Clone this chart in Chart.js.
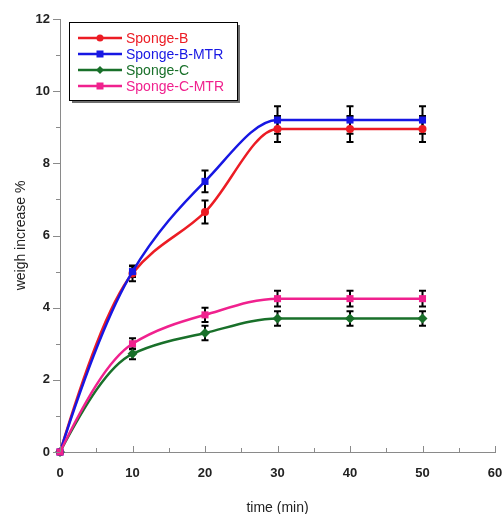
<!DOCTYPE html>
<html>
<head>
<meta charset="utf-8">
<script src="https://cdn.jsdelivr.net/npm/chart.js@4.4.1/dist/chart.umd.min.js"></script>
<style>
  html, body { margin: 0; padding: 0; background: #fff; }
  #wrap { width: 502px; height: 514px; position: relative; }
</style>
</head>
<body>
<div id="wrap"><canvas id="weightChart"></canvas></div>
<script>
// Time points (min)
const timePoints = [0, 10, 20, 30, 40, 50];

// Weight increase %
const spongeB = [0, 4.95, 6.65, 8.95, 8.95, 8.95];
const spongeBMtr = [0, 5.0, 7.5, 9.2, 9.2, 9.2];
const spongeC = [0, 2.72, 3.3, 3.7, 3.7, 3.7];
const spongeCMtr = [0, 3.0, 3.8, 4.25, 4.25, 4.25];

// Error bar half-heights
const errB = [0, 0.22, 0.32, 0.36, 0.36, 0.36];
const errBMtr = [0, 0.15, 0.3, 0.38, 0.38, 0.38];
const errC = [0, 0.15, 0.2, 0.2, 0.2, 0.2];
const errCMtr = [0, 0.15, 0.2, 0.22, 0.22, 0.22];

// Axis ticks
const xMajorTicks = [0, 10, 20, 30, 40, 50, 60];
const xMinorTicks = [5, 15, 25, 35, 45, 55];
const yMajorTicks = [0, 2, 4, 6, 8, 10, 12];
const yMinorTicks = [1, 3, 5, 7, 9, 11];

const seriesNames = ["Sponge-B", "Sponge-B-MTR", "Sponge-C", "Sponge-C-MTR"];

function toPoints(values, errs) {
  return values.map((v, i) => ({ x: timePoints[i], y: v, err: errs[i] }));
}

// PCHIP-style tangents (like Origin's spline): no wiggles, flat on plateaus
function pchipSlopes(xs, ys) {
  const n = xs.length;
  const h = [], d = [], m = new Array(n).fill(0);
  for (let k = 0; k < n - 1; k++) {
    h[k] = xs[k + 1] - xs[k];
    d[k] = (ys[k + 1] - ys[k]) / h[k];
  }
  for (let k = 1; k < n - 1; k++) {
    if (d[k - 1] * d[k] <= 0) { m[k] = 0; continue; }
    const w1 = 2 * h[k] + h[k - 1], w2 = h[k] + 2 * h[k - 1];
    m[k] = (w1 + w2) / (w1 / d[k - 1] + w2 / d[k]);
  }
  const endSlope = (h0, h1, d0, d1) => {
    let s = ((2 * h0 + h1) * d0 - h0 * d1) / (h0 + h1);
    if (Math.sign(s) !== Math.sign(d0)) s = 0;
    else if (Math.sign(d0) !== Math.sign(d1) && Math.abs(s) > Math.abs(3 * d0)) s = 3 * d0;
    return s;
  };
  m[0] = endSlope(h[0], h[1], d[0], d[1]);
  m[n - 1] = endSlope(h[n - 2], h[n - 3], d[n - 2], d[n - 3]);
  return m;
}

const pchipCurve = {
  id: "pchipCurve",
  beforeDatasetDraw(chart, args) {
    const meta = args.meta;
    const line = meta.dataset;
    if (!line || !line.updateControlPoints) return;
    line.updateControlPoints(chart.chartArea, "x");
    const pts = meta.data;
    const px = pts.map(p => p.x), py = pts.map(p => p.y);
    const m = pchipSlopes(px, py);
    for (let i = 0; i < pts.length; i++) {
      if (i > 0) {
        const hb = (px[i] - px[i - 1]) / 3;
        pts[i].cp1x = px[i] - hb;
        pts[i].cp1y = py[i] - m[i] * hb;
      }
      if (i < pts.length - 1) {
        const ha = (px[i + 1] - px[i]) / 3;
        pts[i].cp2x = px[i] + ha;
        pts[i].cp2y = py[i] + m[i] * ha;
      }
    }
  }
};

// Error bars drawn under the markers
const errorBars = {
  id: "errorBars",
  beforeDatasetsDraw(chart) {
    const ctx = chart.ctx;
    const ys = chart.scales.y;
    ctx.save();
    ctx.strokeStyle = "#000";
    ctx.lineWidth = 2;
    chart.data.datasets.forEach((ds, di) => {
      const meta = chart.getDatasetMeta(di);
      ds.data.forEach((p, i) => {
        if (!p.err) return;
        const px = meta.data[i].x;
        const top = ys.getPixelForValue(p.y + p.err);
        const bot = ys.getPixelForValue(p.y - p.err);
        ctx.beginPath();
        ctx.moveTo(px, top); ctx.lineTo(px, bot);
        ctx.moveTo(px - 3.5, top); ctx.lineTo(px + 3.5, top);
        ctx.moveTo(px - 3.5, bot); ctx.lineTo(px + 3.5, bot);
        ctx.stroke();
      });
    });
    ctx.restore();
  }
};

// Tick marks: x inward, y outward
const axisTicks = {
  id: "axisTicks",
  afterDraw(chart) {
    const ctx = chart.ctx;
    const xs = chart.scales.x, ys = chart.scales.y;
    ctx.save();
    ctx.strokeStyle = "#8a8a8a";
    ctx.lineWidth = 1;
    ctx.beginPath();
    xMajorTicks.forEach(v => {
      const px = Math.round(xs.getPixelForValue(v)) + 0.5;
      ctx.moveTo(px, ys.bottom); ctx.lineTo(px, ys.bottom - 6);
    });
    xMinorTicks.forEach(v => {
      const px = Math.round(xs.getPixelForValue(v)) + 0.5;
      ctx.moveTo(px, ys.bottom); ctx.lineTo(px, ys.bottom - 4);
    });
    yMajorTicks.forEach(v => {
      const py = Math.round(ys.getPixelForValue(v)) + 0.5;
      ctx.moveTo(xs.left, py); ctx.lineTo(xs.left - 7, py);
    });
    yMinorTicks.forEach(v => {
      const py = Math.round(ys.getPixelForValue(v)) + 0.5;
      ctx.moveTo(xs.left, py); ctx.lineTo(xs.left - 4, py);
    });
    ctx.stroke();
    ctx.restore();
  }
};

// Boxed legend inside the plot, with a drop shadow
const boxLegend = {
  id: "boxLegend",
  afterDraw(chart) {
    const ctx = chart.ctx;
    const bx = 69, by = 22, bw = 168, bh = 78;
    ctx.save();
    ctx.fillStyle = "#6e6e6e";
    ctx.fillRect(bx + 3, by + 3, bw, bh);
    ctx.fillStyle = "#fff";
    ctx.fillRect(bx, by, bw, bh);
    ctx.strokeStyle = "#000";
    ctx.lineWidth = 1;
    ctx.strokeRect(bx + 0.5, by + 0.5, bw, bh);
    ctx.font = "14px 'Liberation Sans', Arial, sans-serif";
    ctx.textBaseline = "middle";
    chart.data.datasets.forEach((ds, i) => {
      const ry = by + 16 + i * 16;
      ctx.strokeStyle = ds.borderColor;
      ctx.lineWidth = 2.5;
      ctx.beginPath();
      ctx.moveTo(78, ry); ctx.lineTo(122, ry);
      ctx.stroke();
      ctx.fillStyle = ds.borderColor;
      const s = ds.pointStyle;
      ctx.beginPath();
      if (s === "circle") {
        ctx.arc(100, ry, 3.5, 0, Math.PI * 2);
      } else if (s === "rectRot") {
        ctx.moveTo(100, ry - 4); ctx.lineTo(104, ry); ctx.lineTo(100, ry + 4); ctx.lineTo(96, ry);
        ctx.closePath();
      } else {
        ctx.rect(96.5, ry - 3.5, 7, 7);
      }
      ctx.fill();
      ctx.fillText(ds.label, 126, ry + 1);
    });
    ctx.restore();
  }
};

const tickFont = { family: "'Liberation Sans', Arial, sans-serif", size: 13, weight: "bold" };
const titleFont = { family: "'Liberation Sans', Arial, sans-serif", size: 14 };

new Chart(document.getElementById("weightChart"), {
  type: "line",
  data: {
    datasets: [
      {
        label: seriesNames[0],
        data: toPoints(spongeB, errB),
        borderColor: "#ec1c24",
        backgroundColor: "#ec1c24",
        pointStyle: "circle",
        pointRadius: 4,
        order: 3,
      },
      {
        label: seriesNames[1],
        data: toPoints(spongeBMtr, errBMtr),
        borderColor: "#1717e3",
        backgroundColor: "#1717e3",
        pointStyle: "rect",
        pointRadius: 5,
        order: 1,
      },
      {
        label: seriesNames[2],
        data: toPoints(spongeC, errC),
        borderColor: "#19702a",
        backgroundColor: "#19702a",
        pointStyle: "rectRot",
        pointRadius: 5,
        order: 2,
      },
      {
        label: seriesNames[3],
        data: toPoints(spongeCMtr, errCMtr),
        borderColor: "#f0218e",
        backgroundColor: "#f0218e",
        pointStyle: "rect",
        pointRadius: 5,
        order: 0,
      },
    ],
  },
  options: {
    responsive: true,
    maintainAspectRatio: false,
    animation: false,
    devicePixelRatio: 1,
    datasets: { line: { clip: false } },
    elements: {
      line: { borderWidth: 2.5, tension: 0.4, fill: false },
      point: { borderWidth: 0, hoverRadius: 5 },
    },
    layout: { padding: { top: 19, right: 7, left: 0, bottom: 0 } },
    plugins: {
      legend: { display: false },
      tooltip: { enabled: false },
    },
    scales: {
      x: {
        type: "linear",
        min: 0,
        max: 60,
        grid: { display: false },
        border: { display: true, color: "#8a8a8a", width: 1 },
        ticks: { stepSize: 10, padding: 6, color: "#222", font: tickFont, maxRotation: 0 },
        title: { display: true, text: "time (min)", color: "#222", font: titleFont, padding: { top: 0, bottom: -3 } },
        afterFit(s) { s.height = 62; s.paddingLeft = 0; s.paddingRight = 0; },
      },
      y: {
        min: 0,
        max: 12,
        grid: { display: false },
        border: { display: true, color: "#8a8a8a", width: 1 },
        ticks: { stepSize: 2, padding: 2, color: "#222", font: tickFont },
        title: { display: true, text: "weigh increase %", color: "#222", font: titleFont, padding: { top: 13, bottom: 0 } },
        afterFit(s) { s.width = 60; s.paddingTop = 0; s.paddingBottom = 0; },
      },
    },
  },
  plugins: [pchipCurve, errorBars, axisTicks, boxLegend],
});
</script>
</body>
</html>
